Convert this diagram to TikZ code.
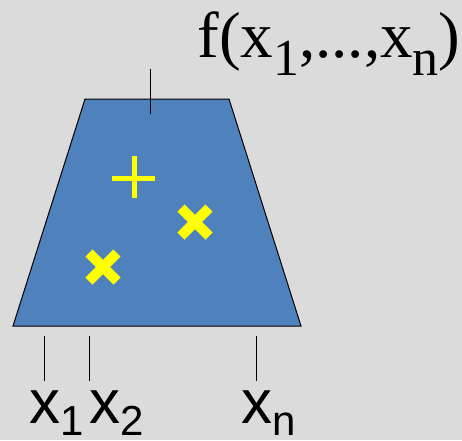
\documentclass[tikz,border=0pt]{standalone}
\usepackage{fontspec}
\setmainfont{Liberation Serif}
\setsansfont{Liberation Sans}
\usetikzlibrary{positioning}
\definecolor{bg}{RGB}{219,219,219}
\definecolor{box}{RGB}{79,129,189}
\definecolor{mark}{RGB}{255,255,0}
\newcommand{\subsans}[1]{\raisebox{-12pt}{\fontsize{42}{42}\selectfont #1}}
\newcommand{\subserif}[1]{\raisebox{-18pt}{\fontsize{52}{52}\selectfont #1}}

\begin{document}
\begin{tikzpicture}[x=1pt, y=-1pt, line width=1pt,
   tick/.style={draw=black, line width=1pt},
   inlab/.style={font=\sffamily\fontsize{62}{62}\selectfont, inner sep=0pt, anchor=base},
   outlab/.style={font=\rmfamily\fontsize{65}{65}\selectfont, inner sep=0pt, anchor=base},
   cross/.style={draw=mark, line width=10pt},
   plusmark/.style={draw=mark, line width=5pt}]
  \fill[bg] (0,0) rectangle (462,440);
  \useasboundingbox (0,0) rectangle (462,440);
  % the box
  \draw[fill=box] (85,99) -- (229,99) -- (301,326) -- (13,326) -- cycle;
  % marks inside
  \draw[plusmark] (112,178) -- (155,178) (134,156) -- (134,198);
  \draw[cross] (181,208) -- (209,236) (181,236) -- (209,208);
  \draw[cross] (89,253) -- (117,281) (89,281) -- (117,253);
  % output
  \node[outlab] (fout) at (329,57) {f(x\subserif{1},...,x\subserif{n})};
  \coordinate (otop) at (150,69);
  \draw[tick] (otop) -- (150,114);
  % inputs
  \node[inlab] (xone) at (57,423) {x\subsans{1}};
  \node[inlab] (xtwo) at (117,423) {x\subsans{2}};
  \node[inlab] (xlast) at (269,423) {x\subsans{n}};
  \coordinate (tone) at (44,336);
  \coordinate (ttwo) at (89,336);
  \coordinate (tlast) at (256,336);
  \draw[tick] (tone) -- ++(0,45) (ttwo) -- ++(0,45) (tlast) -- ++(0,45);
\end{tikzpicture}
\end{document}
